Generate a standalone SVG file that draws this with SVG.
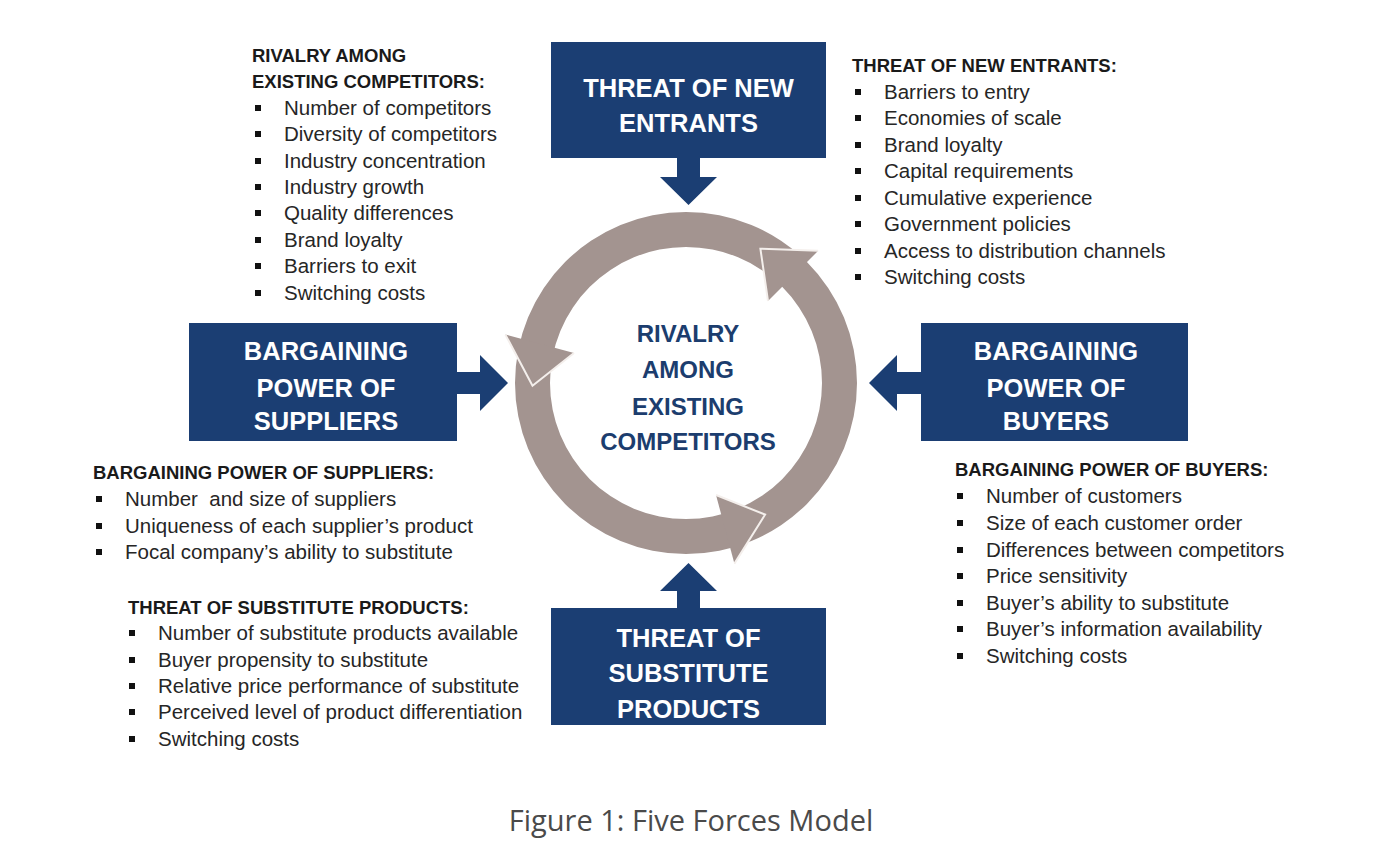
<svg xmlns="http://www.w3.org/2000/svg" width="1400" height="860" viewBox="0 0 1400 860">
<style>
.box{fill:#1b3e73}
.btxt{font-family:"Liberation Sans",Arial,sans-serif;font-weight:bold;font-size:25.5px;fill:#ffffff;text-anchor:middle}
.ctxt{font-family:"Liberation Sans",Arial,sans-serif;font-weight:bold;font-size:24px;fill:#1c3d6e;text-anchor:middle}
.hd{font-family:"Liberation Sans",Arial,sans-serif;font-weight:bold;font-size:18.5px;fill:#1a1a1a}
.it{font-family:"Liberation Sans",Arial,sans-serif;font-size:20.5px;fill:#262626}
.bul{fill:#111111}
.ring{fill:#a39490}
.edge{fill:none;stroke:#f4efec;stroke-width:2;stroke-linejoin:miter}
.cap{font-family:"Open Sans","Liberation Sans",sans-serif;font-size:29px;fill:#4a4a4a;text-anchor:middle}
</style>
<defs>
<rect id="b" width="6" height="6" class="bul"/>
</defs>
<rect width="1400" height="860" fill="#ffffff"/>

<g id="connectors" class="box">
<path d="M677,157 H700 V177 H717 L688.5,205 L660,177 H677 Z"/>
<path d="M688.5,563 L717,591 H700 V609 H677 V591 H660 Z"/>
<path d="M456,372 H480 V355 L508,383 L480,411 V394 H456 Z"/>
<path d="M869,383 L897,355 V372 H922 V394 H897 V411 Z"/>
</g>

<g id="node-rivalry">
<path class="ring" fill-rule="evenodd" d="M857,383 A171,171 0 1 0 515,383 A171,171 0 1 0 857,383 Z M822,383 A136,136 0 1 0 550,383 A136,136 0 1 0 822,383 Z"/>
<polygon class="ring" points="818.2,250.8 760.4,248.7 768,301"/>
<polyline class="edge" points="818.2,250.8 760.4,248.7 768,301"/>
<polygon class="ring" points="505.4,334.6 532.5,385.7 574,353"/>
<polyline class="edge" points="505.4,334.6 532.5,385.7 574,353"/>
<polygon class="ring" points="716,495 765.1,514.6 734.4,563.6"/>
<polyline class="edge" points="716,495 765.1,514.6 734.4,563.6"/>
<text class="ctxt" x="688" y="342">RIVALRY</text>
<text class="ctxt" x="688" y="378">AMONG</text>
<text class="ctxt" x="688" y="415">EXISTING</text>
<text class="ctxt" x="688" y="450">COMPETITORS</text>
</g>

<g id="node-new-entrants">
<rect class="box" x="551" y="42" width="275" height="116"/>
<text class="btxt" x="688.5" y="97">THREAT OF NEW</text>
<text class="btxt" x="688.5" y="132">ENTRANTS</text>
</g>

<g id="node-suppliers">
<rect class="box" x="189" y="323" width="268" height="118"/>
<text class="btxt" x="326" y="360">BARGAINING</text>
<text class="btxt" x="326" y="397">POWER OF</text>
<text class="btxt" x="326" y="430">SUPPLIERS</text>
</g>

<g id="node-buyers">
<rect class="box" x="921" y="323" width="267" height="118"/>
<text class="btxt" x="1056" y="360">BARGAINING</text>
<text class="btxt" x="1056" y="397">POWER OF</text>
<text class="btxt" x="1056" y="430">BUYERS</text>
</g>

<g id="node-substitutes">
<rect class="box" x="551" y="608" width="275" height="117"/>
<text class="btxt" x="688.5" y="647">THREAT OF</text>
<text class="btxt" x="688.5" y="682">SUBSTITUTE</text>
<text class="btxt" x="688.5" y="718">PRODUCTS</text>
</g>

<g id="list-rivalry">
<text class="hd" x="252" y="62">RIVALRY AMONG</text>
<text class="hd" x="252" y="88">EXISTING COMPETITORS:</text>
<use href="#b" x="255" y="105"/><text class="it" x="284" y="115">Number of competitors</text>
<use href="#b" x="255" y="131"/><text class="it" x="284" y="141">Diversity of competitors</text>
<use href="#b" x="255" y="158"/><text class="it" x="284" y="168">Industry concentration</text>
<use href="#b" x="255" y="184"/><text class="it" x="284" y="194">Industry growth</text>
<use href="#b" x="255" y="210"/><text class="it" x="284" y="220">Quality differences</text>
<use href="#b" x="255" y="237"/><text class="it" x="284" y="247">Brand loyalty</text>
<use href="#b" x="255" y="263"/><text class="it" x="284" y="273">Barriers to exit</text>
<use href="#b" x="255" y="290"/><text class="it" x="284" y="300">Switching costs</text>
</g>

<g id="list-new-entrants">
<text class="hd" x="852" y="72">THREAT OF NEW ENTRANTS:</text>
<use href="#b" x="855" y="89"/><text class="it" x="884" y="99">Barriers to entry</text>
<use href="#b" x="855" y="115"/><text class="it" x="884" y="125">Economies of scale</text>
<use href="#b" x="855" y="142"/><text class="it" x="884" y="152">Brand loyalty</text>
<use href="#b" x="855" y="168"/><text class="it" x="884" y="178">Capital requirements</text>
<use href="#b" x="855" y="195"/><text class="it" x="884" y="205">Cumulative experience</text>
<use href="#b" x="855" y="221"/><text class="it" x="884" y="231">Government policies</text>
<use href="#b" x="855" y="248"/><text class="it" x="884" y="258">Access to distribution channels</text>
<use href="#b" x="855" y="274"/><text class="it" x="884" y="284">Switching costs</text>
</g>

<g id="list-suppliers">
<text class="hd" x="93" y="479">BARGAINING POWER OF SUPPLIERS:</text>
<use href="#b" x="96" y="496"/><text class="it" x="125" y="506" xml:space="preserve">Number  and size of suppliers</text>
<use href="#b" x="96" y="523"/><text class="it" x="125" y="533">Uniqueness of each supplier’s product</text>
<use href="#b" x="96" y="549"/><text class="it" x="125" y="559">Focal company’s ability to substitute</text>
</g>

<g id="list-substitutes">
<text class="hd" x="128" y="614">THREAT OF SUBSTITUTE PRODUCTS:</text>
<use href="#b" x="129" y="630"/><text class="it" x="158" y="640">Number of substitute products available</text>
<use href="#b" x="129" y="657"/><text class="it" x="158" y="667">Buyer propensity to substitute</text>
<use href="#b" x="129" y="683"/><text class="it" x="158" y="693">Relative price performance of substitute</text>
<use href="#b" x="129" y="709"/><text class="it" x="158" y="719">Perceived level of product differentiation</text>
<use href="#b" x="129" y="736"/><text class="it" x="158" y="746">Switching costs</text>
</g>

<g id="list-buyers">
<text class="hd" x="955" y="476">BARGAINING POWER OF BUYERS:</text>
<use href="#b" x="957" y="493"/><text class="it" x="986" y="503">Number of customers</text>
<use href="#b" x="957" y="520"/><text class="it" x="986" y="530">Size of each customer order</text>
<use href="#b" x="957" y="547"/><text class="it" x="986" y="557">Differences between competitors</text>
<use href="#b" x="957" y="573"/><text class="it" x="986" y="583">Price sensitivity</text>
<use href="#b" x="957" y="600"/><text class="it" x="986" y="610">Buyer’s ability to substitute</text>
<use href="#b" x="957" y="626"/><text class="it" x="986" y="636">Buyer’s information availability</text>
<use href="#b" x="957" y="653"/><text class="it" x="986" y="663">Switching costs</text>
</g>

<text class="cap" x="691" y="831">Figure 1: Five Forces Model</text>
</svg>
